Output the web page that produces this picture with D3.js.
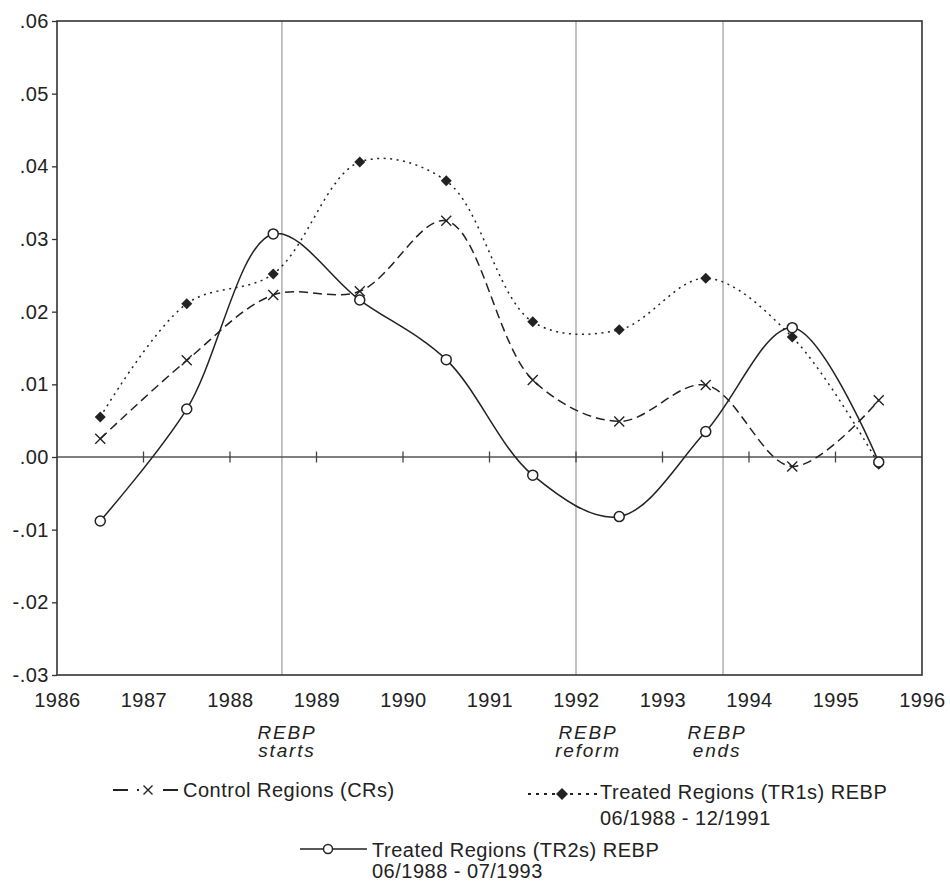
<!DOCTYPE html>
<html>
<head>
<meta charset="utf-8">
<script src="https://d3js.org/d3.v7.min.js"></script>
<style>
	body{
		margin:0;
		background:#fff;
	}
	svg text{
		font-family:"Liberation Sans", Arial, sans-serif;
		fill:#222;
	}
	.frame{
		fill:none;
		stroke:#333;
		stroke-width:1.6;
	}
	.event{
		stroke:#b4b4b4;
		stroke-width:1.6;
	}
	.series{
		fill:none;
		stroke:#222;
		stroke-width:1.5;
	}
	.lbl{
		font-size:20px;
		letter-spacing:0.5px;
	}
</style>
</head>
<body>
<div id="container"></div>

<script type="text/javascript">

// data (points sit at mid-year)
var years = [1986.5, 1987.5, 1988.5, 1989.5, 1990.5, 1991.5, 1992.5, 1993.5, 1994.5, 1995.5];
var controlCRs = [0.0025, 0.0133, 0.0223, 0.0228, 0.0325, 0.0106, 0.0049, 0.0099, -0.0013, 0.0078];
var treatedTR1 = [0.0055, 0.0211, 0.0252, 0.0406, 0.0380, 0.0186, 0.0175, 0.0246, 0.0165, -0.0010];
var treatedTR2 = [-0.0088, 0.0066, 0.0307, 0.0216, 0.0134, -0.0025, -0.0082, 0.0035, 0.0178, -0.0007];

var xTicks = [1986, 1987, 1988, 1989, 1990, 1991, 1992, 1993, 1994, 1995, 1996];
var yTicks = [-0.03, -0.02, -0.01, 0.00, 0.01, 0.02, 0.03, 0.04, 0.05, 0.06];

var eventDates = [1988.6, 1992.0, 1993.7];
var eventLabels = [["REBP", "starts"], ["REBP", "reform"], ["REBP", "ends"]];

var width = 950, height = 884;
var margin = {top: 21, right: 28, bottom: 209, left: 57};

var svg = d3.select("#container")
		.append("svg")
		.attr("width", width)
		.attr("height", height);

var x = d3.scaleLinear()
	.domain([1986, 1996])
	.range([margin.left, width - margin.right]);

var y = d3.scaleLinear()
	.domain([-0.03, 0.06])
	.range([height - margin.bottom, margin.top]);

function fmt(v){
	var s = d3.format(".2f")(Math.abs(v) < 1e-9 ? 0 : v);
	return s.replace("\u2212", "-").replace("0.", ".");
}

// event lines
svg.selectAll("line.event")
	.data(eventDates)
	.enter().append("line")
	.attr("class", "event")
	.attr("x1", function(d){ return x(d); })
	.attr("x2", function(d){ return x(d); })
	.attr("y1", y(0.06))
	.attr("y2", y(-0.03));

// zero line with year ticks
svg.append("line")
	.attr("x1", x(1986)).attr("x2", x(1996))
	.attr("y1", y(0)).attr("y2", y(0))
	.attr("stroke", "#555").attr("stroke-width", 1.5);

svg.selectAll("line.ztick")
	.data(xTicks.slice(1, -1))
	.enter().append("line")
	.attr("class", "ztick")
	.attr("x1", function(d){ return x(d); })
	.attr("x2", function(d){ return x(d); })
	.attr("y1", y(0) - 5.5)
	.attr("y2", y(0) + 5.5)
	.attr("stroke", "#444").attr("stroke-width", 1.3);

// frame
svg.append("rect")
	.attr("class", "frame")
	.attr("x", x(1986))
	.attr("y", y(0.06))
	.attr("width", x(1996) - x(1986))
	.attr("height", y(-0.03) - y(0.06));

// y axis
var yAxis = d3.axisLeft(y)
	.tickValues(yTicks)
	.tickSize(5)
	.tickPadding(3)
	.tickFormat(fmt);

var gy = svg.append("g")
	.attr("transform", "translate(" + x(1986) + ",0)")
	.call(yAxis);
gy.select(".domain").remove();
gy.selectAll(".tick line").attr("stroke", "#333").attr("stroke-width", 1.3);
gy.selectAll(".tick text")
	.attr("class", "lbl")
	.attr("fill", "#222");

// x axis labels
var xAxis = d3.axisBottom(x)
	.tickValues(xTicks)
	.tickSize(0)
	.tickPadding(18)
	.tickFormat(d3.format("d"));

var gx = svg.append("g")
	.attr("transform", "translate(0," + y(-0.03) + ")")
	.call(xAxis);
gx.select(".domain").remove();
gx.selectAll(".tick text")
	.attr("class", "lbl")
	.attr("fill", "#222");

// event annotations
var evOffset = [5, 12, -6];
var ev = svg.selectAll("g.evlabel")
	.data(eventLabels)
	.enter().append("g")
	.attr("class", "evlabel")
	.attr("transform", function(d, i){ return "translate(" + (x(eventDates[i]) + evOffset[i]) + ",0)"; });

ev.append("text")
	.attr("y", 739)
	.attr("text-anchor", "middle")
	.style("font-size", "19px")
	.style("font-style", "italic")
	.style("letter-spacing", "1.8px")
	.text(function(d){ return d[0]; });

ev.append("text")
	.attr("y", 757)
	.attr("text-anchor", "middle")
	.style("font-size", "19px")
	.style("font-style", "italic")
	.style("letter-spacing", "1.8px")
	.text(function(d){ return d[1]; });

// series
var line = d3.line()
	.x(function(d){ return x(d[0]); })
	.y(function(d){ return y(d[1]); })
	.curve(d3.curveCatmullRom.alpha(0.5));

function pts(vals){ return years.map(function(yr, i){ return [yr, vals[i]]; }); }

svg.append("path")
	.attr("class", "series")
	.attr("d", line(pts(treatedTR1)))
	.attr("stroke-dasharray", "2,4.5");

svg.append("path")
	.attr("class", "series")
	.attr("d", line(pts(controlCRs)))
	.attr("stroke-dasharray", "9,5");

svg.append("path")
	.attr("class", "series")
	.attr("d", line(pts(treatedTR2)));

// markers
function drawCross(g, cx, cy, r){
	g.append("path")
		.attr("d", "M" + (cx - r) + "," + (cy - r) + "L" + (cx + r) + "," + (cy + r) +
			"M" + (cx - r) + "," + (cy + r) + "L" + (cx + r) + "," + (cy - r))
		.attr("stroke", "#222").attr("stroke-width", 1.4).attr("fill", "none");
}
function drawDiamond(g, cx, cy, r){
	g.append("path")
		.attr("d", "M" + cx + "," + (cy - r) + "L" + (cx + r) + "," + cy + "L" + cx + "," + (cy + r) + "L" + (cx - r) + "," + cy + "Z")
		.attr("fill", "#222");
}
function drawCircle(g, cx, cy, r){
	g.append("circle")
		.attr("cx", cx).attr("cy", cy).attr("r", r)
		.attr("fill", "#fff").attr("stroke", "#222").attr("stroke-width", 1.5);
}

var marks = svg.append("g");
years.forEach(function(yr, i){
	drawCross(marks, x(yr), y(controlCRs[i]), 5);
	drawDiamond(marks, x(yr), y(treatedTR1[i]), 5.5);
	drawCircle(marks, x(yr), y(treatedTR2[i]), 5);
});

// legend
var leg = svg.append("g");

// control regions
leg.append("line").attr("x1", 113).attr("x2", 128).attr("y1", 790).attr("y2", 790)
	.attr("stroke", "#222").attr("stroke-width", 2);
leg.append("line").attr("x1", 137).attr("x2", 139).attr("y1", 790).attr("y2", 790)
	.attr("stroke", "#222").attr("stroke-width", 2);
leg.append("line").attr("x1", 163).attr("x2", 178).attr("y1", 790).attr("y2", 790)
	.attr("stroke", "#222").attr("stroke-width", 2);
drawCross(leg, 148, 790, 4.5);
leg.append("text").attr("class", "lbl").attr("x", 183).attr("y", 797).text("Control Regions (CRs)");

// treated TR1
leg.append("line").attr("x1", 528).attr("x2", 555).attr("y1", 794).attr("y2", 794)
	.attr("stroke", "#222").attr("stroke-width", 2).attr("stroke-dasharray", "3,5");
leg.append("line").attr("x1", 570).attr("x2", 598).attr("y1", 794).attr("y2", 794)
	.attr("stroke", "#222").attr("stroke-width", 2).attr("stroke-dasharray", "3,5");
drawDiamond(leg, 562, 794, 6);
leg.append("text").attr("class", "lbl").attr("x", 600).attr("y", 799).text("Treated Regions (TR1s) REBP");
leg.append("text").attr("class", "lbl").attr("x", 600).attr("y", 825).text("06/1988 - 12/1991");

// treated TR2
leg.append("line").attr("x1", 300).attr("x2", 367).attr("y1", 849).attr("y2", 849)
	.attr("stroke", "#222").attr("stroke-width", 1.5);
drawCircle(leg, 328, 849, 4.5);
leg.append("text").attr("class", "lbl").attr("x", 372).attr("y", 857).text("Treated Regions (TR2s) REBP");
leg.append("text").attr("class", "lbl").attr("x", 372).attr("y", 878).text("06/1988 - 07/1993");

</script>
</body>
</html>
